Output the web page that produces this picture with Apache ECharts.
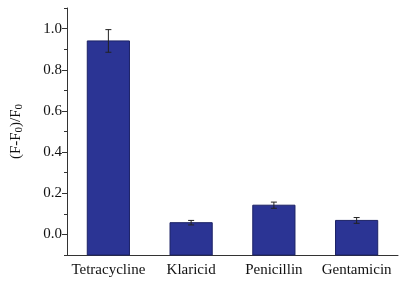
<!DOCTYPE html>
<html>
<head>
<meta charset="utf-8">
<script src="https://cdn.jsdelivr.net/npm/echarts@6/dist/echarts.min.js"></script>
<style>
html,body{margin:0;padding:0;background:#fff;}
#main{width:404px;height:284px;}
</style>
</head>
<body>
<div id="main"></div>
<script>
const categories = ['Tetracycline', 'Klaricid', 'Penicillin', 'Gentamicin'];
const values = [0.940, 0.057, 0.142, 0.068];
const errors = [0.055, 0.011, 0.015, 0.014];
const majorTicks = [0, 0.2, 0.4, 0.6, 0.8, 1.0];
const minorTicks = [-0.1, 0.1, 0.3, 0.5, 0.7, 0.9, 1.1];
const yMin = -0.1, yMax = 1.1;

const font = 'Liberation Serif';
const axisColor = '#333';

let myChart = echarts.init(document.getElementById('main'));
myChart.setOption({
    animation: false,
    grid: { left: 67, right: 6, top: 8, bottom: 29 },
    xAxis: [
        {
            type: 'category',
            data: categories,
            axisLine: { onZero: false, lineStyle: { color: axisColor, width: 1 } },
            axisTick: { alignWithLabel: true, length: 5, lineStyle: { color: axisColor } },
            axisLabel: { interval: 0, fontFamily: font, fontSize: 15, color: '#111', margin: 8 }
        },
        {
            type: 'category',
            data: categories,
            position: 'bottom',
            axisLine: { show: false, onZero: false },
            axisTick: { length: 3, lineStyle: { color: axisColor } },
            axisLabel: { show: false }
        }
    ],
    yAxis: [
        {
            type: 'value',
            min: yMin,
            max: yMax,
            interval: 0.1,
            name: '(F-F{s|0})/F{s|0}',
            nameLocation: 'middle',
            nameGap: 42,
            nameTextStyle: {
                fontFamily: font, fontSize: 15, color: '#111',
                rich: { s: { fontFamily: font, fontSize: 11, color: '#111', padding: [6, 0, 0, 0] } }
            },
            splitLine: { show: false },
            axisLine: { show: true, lineStyle: { color: axisColor, width: 1 } },
            axisTick: { show: true, length: 5, customValues: majorTicks, lineStyle: { color: axisColor } },
            axisLabel: {
                fontFamily: font, fontSize: 15, color: '#111', margin: 5,
                customValues: majorTicks,
                formatter: v => v.toFixed(1)
            }
        },
        {
            type: 'value',
            min: yMin,
            max: yMax,
            interval: 0.1,
            position: 'left',
            splitLine: { show: false },
            axisLine: { show: false },
            axisTick: { show: true, length: 3, customValues: minorTicks, lineStyle: { color: axisColor } },
            axisLabel: { show: false }
        }
    ],
    series: [
        {
            // bars drawn from the bottom of the axis, like the original plot
            type: 'custom',
            data: values.map((v, i) => [i, v]),
            renderItem: function (params, api) {
                const top = api.coord([api.value(0), api.value(1)]);
                const base = api.coord([api.value(0), yMin]);
                const w = api.size([1, 0])[0] * 0.51;
                return {
                    type: 'rect',
                    shape: { x: top[0] - w / 2, y: top[1], width: w, height: base[1] - top[1] },
                    style: { fill: '#2b3494', stroke: '#1c2266', lineWidth: 1 }
                };
            }
        },
        {
            type: 'custom',
            data: values.map((v, i) => [i, v - errors[i], v + errors[i]]),
            z: 10,
            renderItem: function (params, api) {
                const lo = api.coord([api.value(0), api.value(1)]);
                const hi = api.coord([api.value(0), api.value(2)]);
                const w = 3;
                const style = { stroke: '#222', lineWidth: 1 };
                return {
                    type: 'group',
                    children: [
                        { type: 'line', shape: { x1: hi[0], y1: hi[1], x2: lo[0], y2: lo[1] }, style },
                        { type: 'line', shape: { x1: hi[0] - w, y1: hi[1], x2: hi[0] + w, y2: hi[1] }, style },
                        { type: 'line', shape: { x1: lo[0] - w, y1: lo[1], x2: lo[0] + w, y2: lo[1] }, style }
                    ]
                };
            }
        }
    ]
});
</script>
</body>
</html>
